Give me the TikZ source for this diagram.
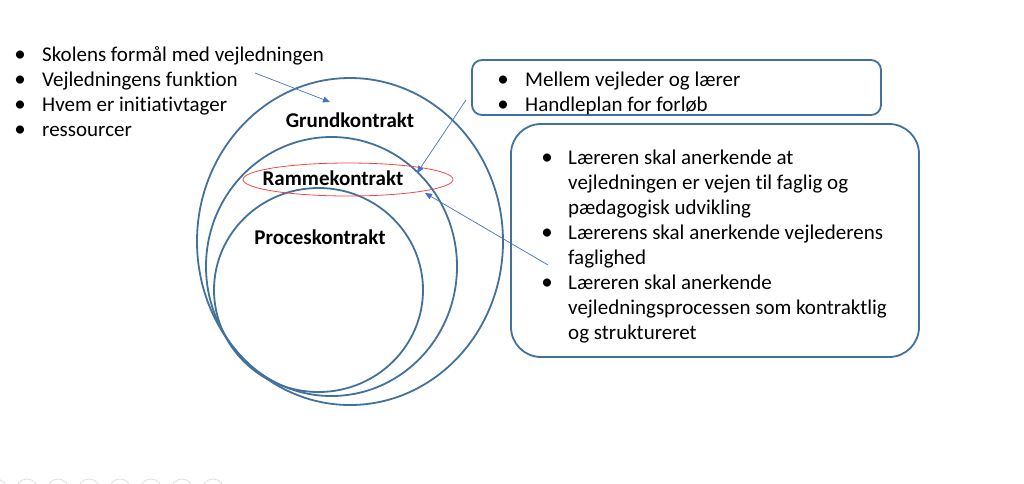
\documentclass[tikz,border=0pt]{standalone}
\usepackage{fontspec}
\setmainfont{Carlito}[Ligatures={NoCommon}]
\usetikzlibrary{arrows.meta}
\definecolor{ringblue}{HTML}{41719C}
\definecolor{arrowblue}{HTML}{4472C4}
\definecolor{ringred}{HTML}{F04848}
\tikzset{
  ring/.style={draw=ringblue, line width=1.8},
  textbox/.style={draw=ringblue, line width=1.8},
  item/.style={anchor=base west, inner sep=0pt, font=\fontsize{21}{25}\selectfont},
  dot/.style={anchor=base, inner sep=0pt, font=\fontsize{23}{25}\selectfont},
  title/.style={inner sep=0pt, font=\fontsize{21}{25}\selectfont\bfseries},
  pointer/.style={arrowblue, line width=0.7, -{Triangle[length=7,width=6]}},
}
\begin{document}
\begin{tikzpicture}[x=1pt,y=-1pt]
    \useasboundingbox (0,0) rectangle (1024,483);
    \begin{scope}
        \clip (0,0) rectangle (1024,483);
        \foreach \k in {0,...,7}
            \draw[gray!25, line width=0.8] (-4+31*\k,490) circle (11);
    \end{scope}

    \draw[ring] (350,241.5) ellipse [x radius=153, y radius=163.5];
    \draw[ring] (331.5,266.5) ellipse [x radius=125.5, y radius=129.5];
    \draw[ring] (318.5,290) ellipse [x radius=104.5, y radius=102];
    \draw[ringred, line width=0.8] (348,179.5) ellipse [x radius=105, y radius=16.5];
    \node[title] (grund) at (350,120) {Grundkontrakt};
    \node[title] (ramme) at (333,178) {Rammekontrakt};
    \node[title] (proces) at (320,237) {Proceskontrakt};

    \foreach \txt [count=\i] in {Skolens formål med vejledningen, Vejledningens funktion, Hvem er initiativtager, ressourcer}{
        \node[dot] (ldot\i) at (20,36+25*\i) {•};
        \node[item] (left\i) at (42,36+25*\i) {\txt};
    }

    \draw[textbox, rounded corners=10] (472,60) rectangle (881,115);
    \foreach \txt [count=\i] in {Mellem vejleder og lærer, Handleplan for forløb}{
        \node[dot] (tdot\i) at (503,61+25*\i) {•};
        \node[item] (top\i) at (525,61+25*\i) {\txt};
    }

    \draw[textbox, rounded corners=30] (511,124) rectangle (919,357);
    \foreach \txt [count=\i] in {Læreren skal anerkende at, vejledningen er vejen til faglig og, pædagogisk udvikling, Lærerens skal anerkende vejlederens, faglighed, Læreren skal anerkende, vejledningsprocessen som kontraktlig, og struktureret}
        \node[item] (big\i) at (568,139+25*\i) {\txt};
    \foreach \i in {1,4,6}
        \node[dot] (bdot\i) at (547,139+25*\i) {•};

    \coordinate (fromleft) at (255,73);
    \coordinate (togrund) at (330,102);
    \coordinate (fromtop) at (466,100);
    \coordinate (toramme) at (417,173);
    \coordinate (frombig) at (548,265);
    \coordinate (tobelow) at (425,193);
    \draw[pointer] (fromleft) -- (togrund);
    \draw[pointer] (fromtop) -- (toramme);
    \draw[pointer] (frombig) -- (tobelow);
\end{tikzpicture}
\end{document}
